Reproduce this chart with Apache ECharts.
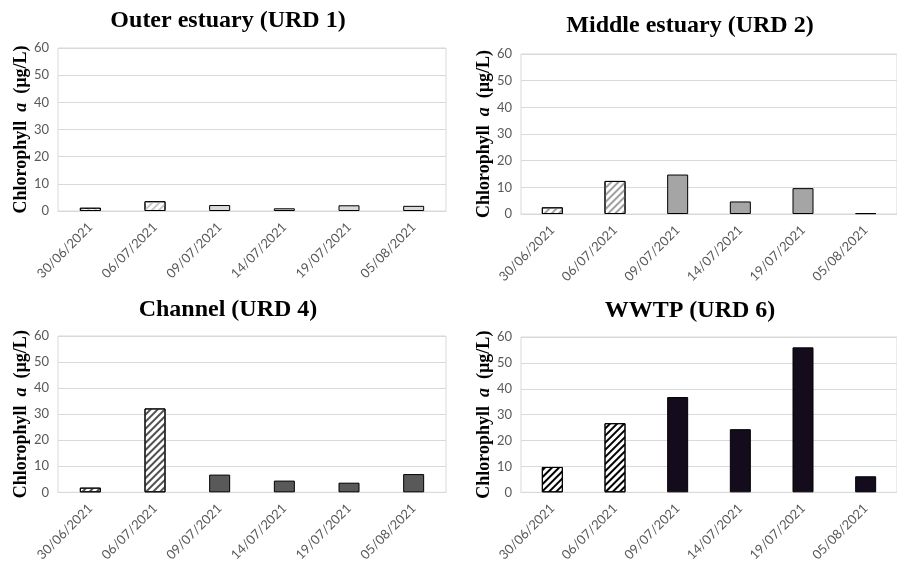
<!DOCTYPE html>
<html>
<head>
<meta charset="utf-8">
<script src="https://cdn.jsdelivr.net/npm/echarts@6/dist/echarts.min.js"></script>
<style>
  html, body { margin: 0; padding: 0; background: #fff; }
  #chart { width: 897px; height: 564px; }
</style>
</head>
<body>
<div id="chart"></div>
<script>
const categories = ['30/06/2021', '06/07/2021', '09/07/2021', '14/07/2021', '19/07/2021', '05/08/2021']
const yTicks = { min: 0, max: 60, interval: 10 }

const outerValues = [1.2, 3.6, 2.2, 1.0, 2.1, 1.9]
const middleValues = [2.5, 12.4, 14.8, 4.7, 9.7, 0.3]
const channelValues = [1.8, 32.2, 6.8, 4.5, 3.7, 7.0]
const wwtpValues = [9.8, 26.7, 36.8, 24.4, 56.0, 6.2]

const panelTitles = ['Outer estuary (URD 1)', 'Middle estuary (URD 2)', 'Channel (URD 4)', 'WWTP (URD 6)']
const hatchedCount = 2 // first two dates drawn hatched

const panels = [
  { title: panelTitles[0], data: outerValues, fill: '#d9d9d9', hatch: '#c8c8c8',
    grid: { left: 58, top: 48, width: 388, height: 163 }, titleX: 228, titleTop: 9 },
  { title: panelTitles[1], data: middleValues, fill: '#a5a5a5', hatch: '#a0a0a0',
    grid: { left: 521, top: 54, width: 388, height: 160 }, titleX: 690, titleTop: 14 },
  { title: panelTitles[2], data: channelValues, fill: '#595959', hatch: '#505050',
    grid: { left: 58, top: 336, width: 388, height: 161 }, titleX: 228, titleTop: 298 },
  { title: panelTitles[3], data: wwtpValues, fill: '#140c1c', hatch: '#000000',
    grid: { left: 521, top: 337, width: 388, height: 161 }, titleX: 690, titleTop: 299 },
]

const labelFont = 'Lato, "Liberation Sans", sans-serif'
const serif = '"Liberation Serif", "Times New Roman", serif'

function makeOption() {
  return {
    animation: false,
    title: panels.map((p) => ({
      text: p.title,
      left: p.titleX,
      top: p.titleTop,
      textAlign: 'center',
      padding: 0,
      textStyle: { fontFamily: serif, fontWeight: 'bold', fontSize: 24, color: '#000' },
    })),
    grid: panels.map((p) => ({
      ...p.grid,
      show: true,
      borderColor: '#d9d9d9',
      borderWidth: 1,
      containLabel: false,
    })),
    xAxis: panels.map((p, i) => ({
      type: 'category',
      gridIndex: i,
      data: categories,
      axisLine: { lineStyle: { color: '#d9d9d9', width: 1 } },
      axisTick: { show: false },
      axisLabel: { rotate: 45, margin: 14, color: '#595959', fontSize: 13, fontFamily: labelFont, interval: 0 },
    })),
    yAxis: panels.map((p, i) => ({
      type: 'value',
      gridIndex: i,
      min: yTicks.min,
      max: yTicks.max,
      interval: yTicks.interval,
      name: '{b|Chlorophyll  }{i|a}{b|  (µg/L)}',
      nameLocation: 'middle',
      nameGap: 27,
      nameTextStyle: {
        rich: {
          b: { fontFamily: serif, fontWeight: 'bold', fontSize: 18, color: '#000' },
          i: { fontFamily: serif, fontWeight: 'bold', fontStyle: 'italic', fontSize: 18, color: '#000' },
        },
      },
      axisLine: { show: false },
      axisTick: { show: false },
      splitLine: { lineStyle: { color: '#d9d9d9', width: 1 } },
      axisLabel: { color: '#595959', fontSize: 13, fontFamily: labelFont, margin: 9 },
    })),
    series: panels.map((p, i) => ({
      type: 'bar',
      xAxisIndex: i,
      yAxisIndex: i,
      barWidth: 21,
      data: p.data.map((v, k) => ({
        value: v,
        itemStyle: k < hatchedCount
          ? {
              color: '#ffffff',
              borderColor: '#000',
              borderWidth: 1,
              decal: {
                symbol: 'rect',
                symbolSize: 1,
                color: p.hatch,
                dashArrayX: [1, 0],
                dashArrayY: [2, 2.5],
                rotation: -Math.PI / 4,
              },
            }
          : { color: p.fill, borderColor: '#000', borderWidth: 1 },
      })),
    })),
  }
}

const chart = echarts.init(document.getElementById('chart'))
chart.setOption(makeOption())
</script>
</body>
</html>
